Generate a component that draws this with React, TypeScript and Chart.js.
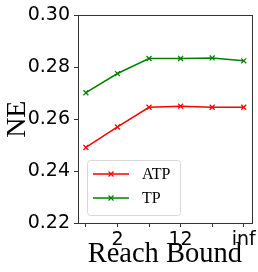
import React, { useEffect, useRef } from "react";
import { Chart, registerables } from "chart.js";

Chart.register(...registerables);

const xTickLabels = ["", "2", "", "12", "", "inf"];
const atpValues = [0.2491, 0.257, 0.2646, 0.265, 0.2646, 0.2646];
const tpValues = [0.2702, 0.2776, 0.2834, 0.2834, 0.2836, 0.2825];
const seriesNames = ["ATP", "TP"];
const seriesColors = ["#ff0000", "#008000"];
const yTicks = [0.22, 0.24, 0.26, 0.28, 0.3];

const frameAndLegend = {
  id: "frameAndLegend",
  afterDraw(chart: any) {
    const { ctx, chartArea } = chart;
    ctx.save();
    ctx.strokeStyle = "#333";
    ctx.lineWidth = 1;
    ctx.strokeRect(
      Math.round(chartArea.left) + 0.5,
      Math.round(chartArea.top) + 0.5,
      Math.round(chartArea.right - chartArea.left),
      Math.round(chartArea.bottom - chartArea.top)
    );
    // legend
    const bx = chartArea.left + 9;
    const bw = 93;
    const bh = 55;
    const by = chartArea.bottom - 8 - bh;
    ctx.beginPath();
    if (ctx.roundRect) ctx.roundRect(bx + 0.5, by + 0.5, bw, bh, 3);
    else ctx.rect(bx + 0.5, by + 0.5, bw, bh);
    ctx.fillStyle = "rgba(255,255,255,0.85)";
    ctx.fill();
    ctx.strokeStyle = "#d8d8d8";
    ctx.stroke();
    chart.data.datasets.forEach((ds: any, i: number) => {
      const cy = by + 14 + i * 24;
      const x0 = bx + 6;
      const x1 = bx + 42;
      ctx.strokeStyle = ds.borderColor;
      ctx.lineWidth = 1.5;
      ctx.beginPath();
      ctx.moveTo(x0, cy);
      ctx.lineTo(x1, cy);
      ctx.stroke();
      const mx = (x0 + x1) / 2;
      const r = 2.5;
      ctx.lineWidth = 1.2;
      ctx.beginPath();
      ctx.moveTo(mx - r, cy - r);
      ctx.lineTo(mx + r, cy + r);
      ctx.moveTo(mx - r, cy + r);
      ctx.lineTo(mx + r, cy - r);
      ctx.stroke();
      ctx.fillStyle = "#000";
      ctx.font = "16px 'Liberation Serif', serif";
      ctx.textBaseline = "middle";
      ctx.textAlign = "left";
      ctx.fillText(ds.label, bx + 55, cy + 1);
    });
    ctx.restore();
  },
};

export default function App() {
  const ref = useRef<HTMLCanvasElement>(null);
  useEffect(() => {
    document.body.style.margin = "0";
    const canvas = ref.current!;
    const chart = new Chart(canvas, {
      type: "line",
      data: {
        datasets: [atpValues, tpValues].map((vals, i) => ({
          label: seriesNames[i],
          data: vals.map((v, j) => ({ x: j, y: v })),
          borderColor: seriesColors[i],
          backgroundColor: seriesColors[i],
          borderWidth: 1.5,
          pointStyle: "crossRot",
          pointRadius: 3.5,
          pointBorderWidth: 1.2,
          fill: false,
          tension: 0,
        })),
      },
      options: {
        animation: false,
        responsive: false,
        devicePixelRatio: 1,
        layout: { padding: { top: 7, right: 6, left: 0, bottom: 0 } },
        plugins: { legend: { display: false }, tooltip: { enabled: false } },
        scales: {
          x: {
            type: "linear",
            min: -0.25,
            max: 5.25,
            afterBuildTicks: (s: any) => {
              s.ticks = xTickLabels.map((_, i) => ({ value: i }));
            },
            afterFit: (s: any) => {
              s.height = 49;
            },
            ticks: {
              autoSkip: false,
              maxRotation: 0,
              padding: 2,
              color: "#000",
              font: { family: "'DejaVu Sans'", size: 19 },
              callback: (v: any) => xTickLabels[Math.round(Number(v))] ?? "",
            },
            grid: {
              display: true,
              drawOnChartArea: false,
              drawTicks: true,
              tickLength: 4,
              color: "#333",
            },
            border: { display: true, color: "#333", width: 1 },
            title: {
              display: true,
              text: "Reach Bound",
              color: "#000",
              font: { family: "'Liberation Serif'", size: 28.5 },
              padding: { top: -5, bottom: 0 },
            },
          },
          y: {
            min: 0.22,
            max: 0.3,
            afterBuildTicks: (s: any) => {
              s.ticks = yTicks.map((v) => ({ value: v }));
            },
            afterFit: (s: any) => {
              s.width = 78;
            },
            ticks: {
              color: "#000",
              padding: 4,
              font: { family: "'DejaVu Sans'", size: 19 },
              callback: (v: any) => Number(v).toFixed(2),
            },
            grid: {
              display: true,
              drawOnChartArea: false,
              drawTicks: true,
              tickLength: 4,
              color: "#333",
            },
            border: { display: true, color: "#333", width: 1 },
            title: {
              display: true,
              text: "NE",
              color: "#000",
              font: { family: "'Liberation Serif'", size: 28 },
              padding: { top: 1, bottom: 0 },
            },
          },
        },
      },
      plugins: [frameAndLegend],
    });
    return () => chart.destroy();
  }, []);
  return (
    <div style={{ position: "absolute", left: 0, top: 0, width: 258, height: 272, background: "#fff" }}>
      <canvas ref={ref} width={258} height={272} style={{ width: 258, height: 272 }} />
    </div>
  );
}
